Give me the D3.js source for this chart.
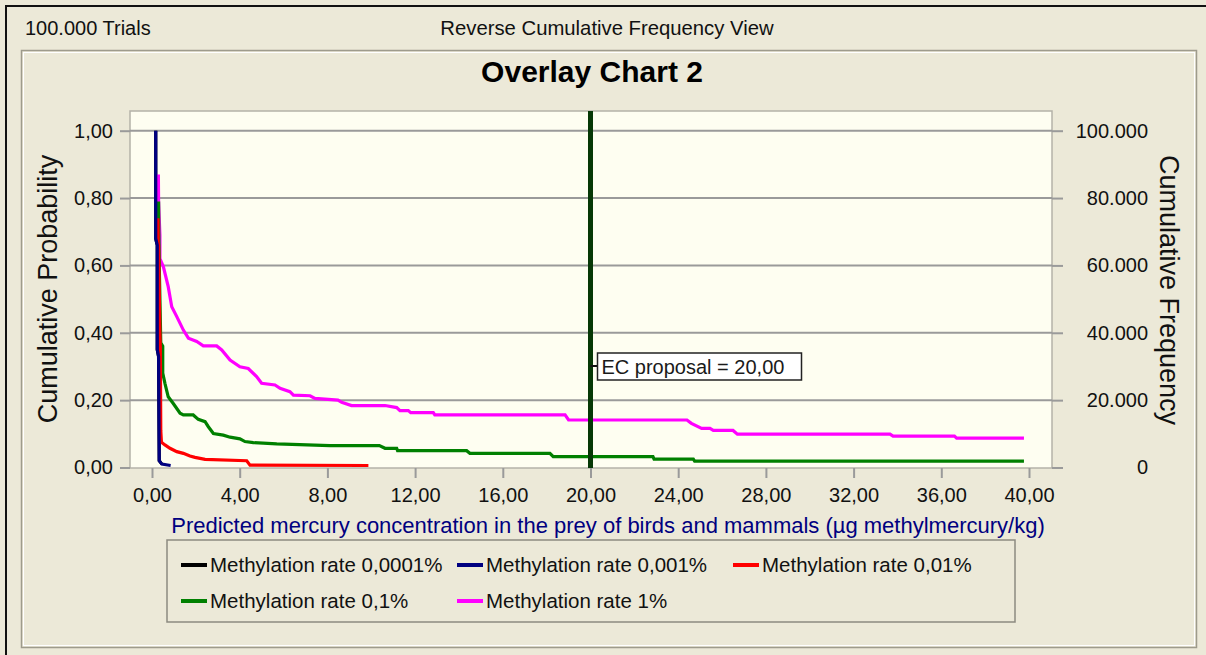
<!DOCTYPE html>
<html><head><meta charset="utf-8">
<script src="https://cdn.jsdelivr.net/npm/d3@7"></script>
<style>
html,body{margin:0;padding:0;background:#ECE9D8;}
svg{display:block;font-family:"Liberation Sans",Arial,sans-serif;}
</style></head>
<body>
<svg id="chart" width="1206" height="655"></svg>
<script>
// ---- data ----
const seriesNames = ["Methylation rate 0,0001%","Methylation rate 0,001%","Methylation rate 0,01%","Methylation rate 0,1%","Methylation rate 1%"];
const seriesColors = ["#000000","#000080","#FF0000","#008000","#FF00FF"];
const black0001 = [[0.17,1.0],[0.17,0.68],[0.24,0.66],[0.24,0.35],[0.30,0.33],[0.33,0.02],[0.45,0.01]];
const blue001 = [[0.17,1.0],[0.17,0.68],[0.24,0.66],[0.24,0.35],[0.30,0.33],[0.33,0.02],[0.45,0.01],[0.85,0.006]];
const red01 = [[0.27,0.74],[0.28,0.67],[0.30,0.66],[0.36,0.40],[0.38,0.35],[0.40,0.11],[0.43,0.075],[0.59,0.067],[0.82,0.057],[1.13,0.047],[1.43,0.042],[1.73,0.034],[1.96,0.030],[2.42,0.024],[4.32,0.020],[4.47,0.007],[9.87,0.006]];
const green1 = [[0.30,0.79],[0.31,0.70],[0.34,0.57],[0.40,0.37],[0.49,0.36],[0.49,0.28],[0.59,0.25],[0.74,0.21],[0.97,0.19],[1.28,0.161],[1.43,0.156],[1.88,0.156],[2.11,0.143],[2.42,0.136],[2.57,0.121],[2.80,0.101],[3.25,0.096],[3.56,0.090],[4.01,0.085],[4.24,0.077],[4.62,0.074],[5.69,0.070],[8.12,0.065],[10.37,0.065],[10.63,0.057],[11.16,0.057],[11.2,0.050],[14.35,0.050],[14.5,0.042],[18.15,0.042],[18.3,0.032],[22.85,0.032],[22.9,0.025],[24.69,0.025],[24.75,0.019],[39.77,0.019]];
const magenta1 = [[0.29,0.87],[0.30,0.79],[0.36,0.69],[0.36,0.62],[0.52,0.596],[0.74,0.537],[0.90,0.477],[1.13,0.448],[1.43,0.408],[1.66,0.384],[2.04,0.374],[2.34,0.361],[2.95,0.361],[3.18,0.349],[3.56,0.319],[4.01,0.299],[4.39,0.294],[4.77,0.270],[5.0,0.25],[5.61,0.245],[5.84,0.235],[6.29,0.225],[6.45,0.215],[7.21,0.213],[7.43,0.205],[8.48,0.200],[8.65,0.194],[9.1,0.184],[10.63,0.184],[11.16,0.178],[11.31,0.169],[11.69,0.169],[11.8,0.163],[12.83,0.163],[12.9,0.156],[18.84,0.156],[19.0,0.141],[24.4,0.141],[24.6,0.131],[25.07,0.116],[25.45,0.116],[25.6,0.110],[26.5,0.110],[26.7,0.099],[33.66,0.099],[33.8,0.093],[36.6,0.093],[36.7,0.087],[39.77,0.087]];
const seriesData = [black0001, blue001, red01, green1, magenta1];
const drawOrder = [0,4,3,2,1];
const xTicks = [0,4,8,12,16,20,24,28,32,36,40];
const yTicks = [0,0.2,0.4,0.6,0.8,1.0];
const y2Ticks = [0,20000,40000,60000,80000,100000];
const ecValue = 20;
const ecLabel = "EC proposal = 20,00";
const trialsText = "100.000 Trials";
const viewText = "Reverse Cumulative Frequency View";
const titleText = "Overlay Chart 2";
const xTitle = "Predicted mercury concentration in the prey of birds and mammals (µg methylmercury/kg)";
const yTitle = "Cumulative Probability";
const y2Title = "Cumulative Frequency";

// ---- drawing ----
const loc = d3.formatLocale({decimal:",", thousands:".", grouping:[3], currency:["","€"]});
const fmt2 = loc.format(".2f");
const fmtK = loc.format(",.0f");
const svg = d3.select("#chart");
const font = "'Liberation Sans',Arial,sans-serif";

// outer window lines
svg.append("line").attr("x1",6).attr("x2",6).attr("y1",5).attr("y2",655).attr("stroke","#111").attr("stroke-width",2);
svg.append("line").attr("x1",5).attr("x2",1206).attr("y1",6).attr("y2",6).attr("stroke","#111").attr("stroke-width",2);

// header text
svg.append("text").attr("x",25).attr("y",35).attr("font-size",20).attr("fill","#111").text(trialsText);
svg.append("text").attr("x",607).attr("y",35).attr("font-size",20.3).attr("fill","#111").attr("text-anchor","middle").text(viewText);

// inner panel (etched)
svg.append("rect").attr("x",21.5).attr("y",50.5).attr("width",1175).attr("height",597).attr("fill","none").attr("stroke","#9e9b8c").attr("stroke-width",1.5);
svg.append("rect").attr("x",23.5).attr("y",52.5).attr("width",1171).attr("height",593).attr("fill","none").attr("stroke","#ffffff").attr("stroke-width",1);

// title
svg.append("text").attr("x",592).attr("y",82).attr("font-size",30).attr("font-weight","bold").attr("fill","#000").attr("text-anchor","middle").text(titleText);

// scales
const x = d3.scaleLinear().domain([0,40]).range([152,1029]);
const y = d3.scaleLinear().domain([0,1]).range([467.5,130.7]);
const y2 = d3.scaleLinear().domain([0,100000]).range([467.5,130.7]);
const plot = {l:130, t:111, r:1052, b:468};

// plot background
svg.append("rect").attr("x",plot.l).attr("y",plot.t).attr("width",plot.r-plot.l).attr("height",plot.b-plot.t)
  .attr("fill","#FEFEF1").attr("stroke","#b4b2a8").attr("stroke-width",1.5);

// gridlines
svg.append("g").selectAll("line").data(yTicks.filter(d=>d>0)).join("line")
  .attr("x1",plot.l).attr("x2",plot.r).attr("y1",d=>y(d)).attr("y2",d=>y(d))
  .attr("stroke","#9a9a9a").attr("stroke-width",2);

// left axis
const gL = svg.append("g").attr("transform",`translate(${plot.l},0)`)
  .call(d3.axisLeft(y).tickValues(yTicks).tickSize(10).tickPadding(7).tickFormat(fmt2));
gL.select(".domain").remove();
gL.selectAll("line").attr("stroke","#9a9a9a").attr("stroke-width",2);
gL.selectAll("text").attr("font-size",20).attr("font-family",font).attr("fill","#111");

// right axis
const gR = svg.append("g").attr("transform",`translate(${plot.r},0)`)
  .call(d3.axisRight(y2).tickValues(y2Ticks).tickSize(11).tickPadding(10).tickFormat(fmtK));
gR.select(".domain").remove();
gR.selectAll("line").attr("stroke","#9a9a9a").attr("stroke-width",2);
gR.selectAll("text").attr("font-size",20).attr("font-family",font).attr("fill","#111").attr("text-anchor","end").attr("x",96);

// bottom axis
const gB = svg.append("g").attr("transform",`translate(0,${plot.b})`)
  .call(d3.axisBottom(x).tickValues(xTicks).tickSize(10).tickPadding(10).tickFormat(fmt2));
gB.select(".domain").remove();
gB.selectAll("line").attr("stroke","#9a9a9a").attr("stroke-width",2);
gB.selectAll("text").attr("font-size",20).attr("font-family",font).attr("fill","#111");

// axis titles
svg.append("text").attr("transform","translate(57,289) rotate(-90)").attr("text-anchor","middle")
  .attr("font-size",27).attr("fill","#111").text(yTitle);
svg.append("text").attr("transform","translate(1160,290) rotate(90)").attr("text-anchor","middle")
  .attr("font-size",27).attr("fill","#111").text(y2Title);
svg.append("text").attr("x",608).attr("y",533).attr("text-anchor","middle")
  .attr("font-size",22).attr("fill","#000080").text(xTitle);

// series
const line = d3.line().x(d=>x(d[0])).y(d=>y(d[1]));
const gS = svg.append("g");
drawOrder.forEach(i=>{
  gS.append("path").datum(seriesData[i]).attr("d",line).attr("fill","none")
    .attr("stroke",seriesColors[i]).attr("stroke-width",3.2).attr("stroke-linejoin","miter");
});

// EC proposal line + label
svg.append("line").attr("x1",x(ecValue)).attr("x2",x(ecValue)).attr("y1",plot.t).attr("y2",plot.b)
  .attr("stroke","#063806").attr("stroke-width",5);
svg.append("line").attr("x1",x(ecValue)).attr("x2",x(ecValue)+9).attr("y1",366).attr("y2",366)
  .attr("stroke","#111").attr("stroke-width",2);
svg.append("rect").attr("x",x(ecValue)+7).attr("y",353).attr("width",204).attr("height",27)
  .attr("fill","#fff").attr("stroke","#222").attr("stroke-width",1.5);
svg.append("text").attr("x",x(ecValue)+11).attr("y",374).attr("font-size",20).attr("fill","#1a1a1a").text(ecLabel);

// legend
const lg = svg.append("g");
lg.append("rect").attr("x",167).attr("y",540).attr("width",848).attr("height",82)
  .attr("fill","none").attr("stroke","#8c8a80").attr("stroke-width",1.5);
const legPos = [[181,565],[457,565],[733,565],[181,601],[457,601]];
seriesNames.forEach((n,i)=>{
  const [lx,ly] = legPos[i];
  lg.append("line").attr("x1",lx).attr("x2",lx+26).attr("y1",ly).attr("y2",ly)
    .attr("stroke",seriesColors[i]).attr("stroke-width",4);
  lg.append("text").attr("x",lx+29).attr("y",ly+7).attr("font-size",20.5).attr("fill","#111").text(n);
});
</script>
</body></html>
